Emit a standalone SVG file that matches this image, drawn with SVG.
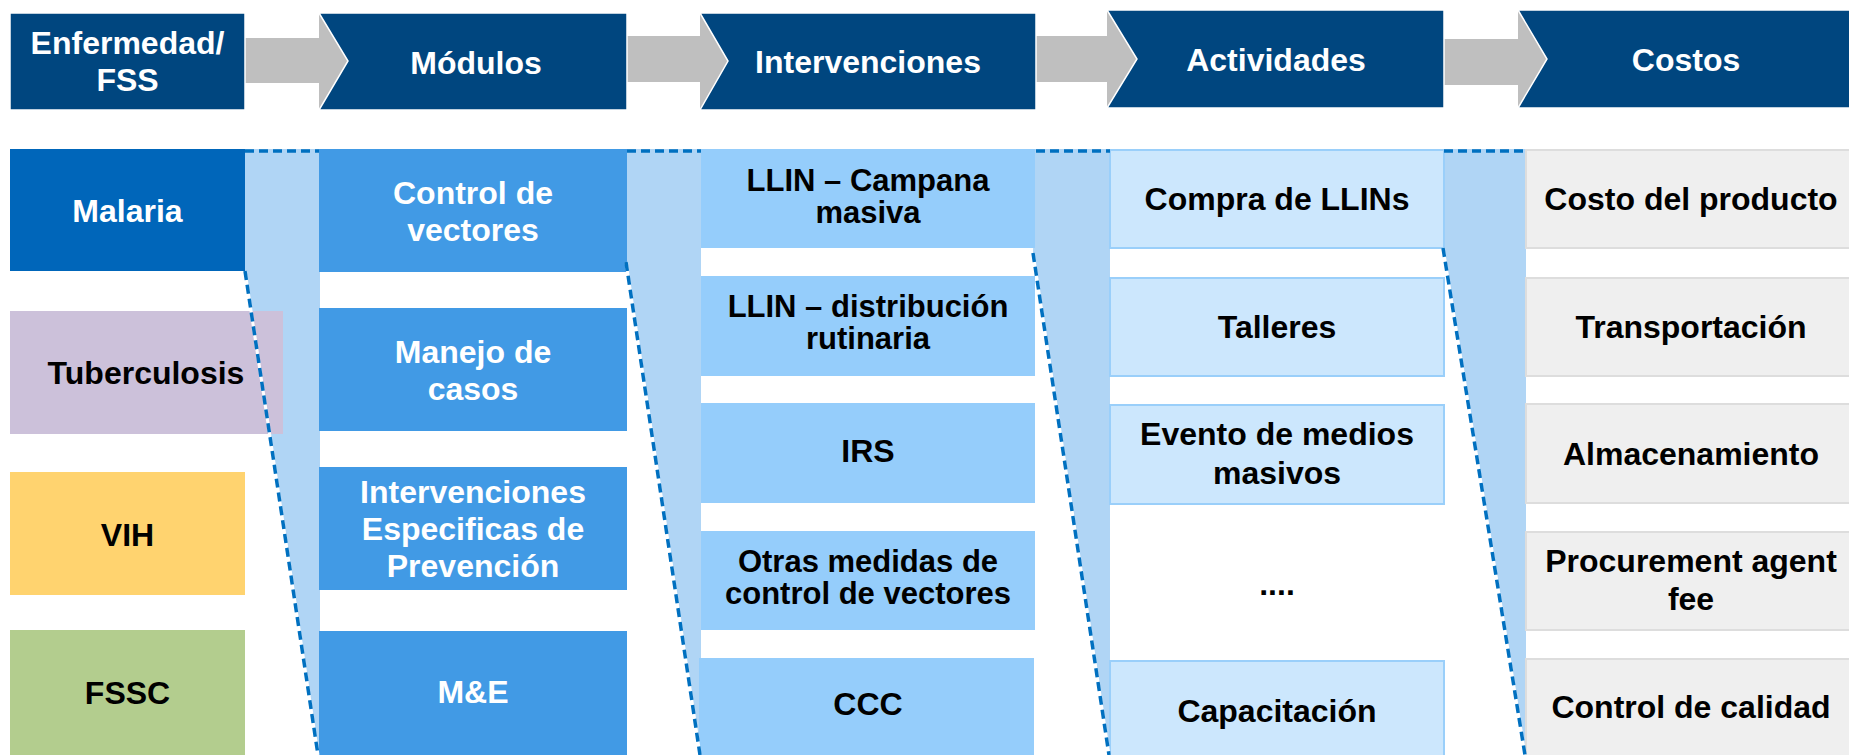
<svg xmlns="http://www.w3.org/2000/svg" width="1849" height="755" viewBox="0 0 1849 755">
<style>
text{font-family:"Liberation Sans",Arial,sans-serif;font-weight:bold;font-size:32px;text-anchor:middle}
.t2{font-size:31px}
.w{fill:#ffffff}
.k{fill:#000000}
.hd{fill:#00467F;stroke:#ffffff;stroke-width:1.5}
.ga{fill:#BFBFBF}
.fun{fill:#B0D5F5}
.mal{fill:#0066BA}
.tb{fill:#CCC1DA}
.vih{fill:#FFD36F}
.fssc{fill:#B3CD8E}
.mod{fill:#419AE5}
.int{fill:#95CDFB}
.act{fill:#CCE7FD;stroke:#9ACFFA;stroke-width:2}
.cost{fill:#EFEFEF;stroke:#DDDDDD;stroke-width:2}
.dw{stroke:#ffffff;stroke-width:3;fill:none}
.dl{stroke:#0070C0;stroke-width:3.5;stroke-dasharray:9 5;fill:none}
</style>
<rect width="1849" height="755" fill="#ffffff"/>
<g id="arrows">
<polygon class="ga" points="245,38 319,38 319,13 348,61 319,110 319,83 245,83"/>
<polygon class="ga" points="627,36 700,36 700,13 728,61 700,110 700,82 627,82"/>
<polygon class="ga" points="1036,36 1107,36 1107,10 1137,59 1107,108 1107,82 1036,82"/>
<polygon class="ga" points="1444,39 1518,39 1518,10 1547,59 1518,108 1518,85 1444,85"/>
</g>
<g id="h1"><rect class="hd" x="10" y="13" width="235" height="97"/><text class="w" x="127.5" y="54">Enfermedad/</text><text class="w" x="127.5" y="91">FSS</text></g>
<g id="h2"><polygon class="hd" points="319,13 627,13 627,110 319,110 348,61"/><text class="w" x="476" y="74">Módulos</text></g>
<g id="h3"><polygon class="hd" points="700,13 1036,13 1036,110 700,110 728,61"/><text class="w" x="868" y="73">Intervenciones</text></g>
<g id="h4"><polygon class="hd" points="1107,10 1444,10 1444,108 1107,108 1137,59"/><text class="w" x="1276" y="71">Actividades</text></g>
<g id="h5"><polygon class="hd" points="1518,10 1851,10 1851,108 1518,108 1547,59"/><text class="w" x="1686" y="71">Costos</text></g>
<g id="funnels">
<polygon class="fun" points="245,149 320,149 320,755 318,755 245,271"/>
<polygon class="fun" points="627,149 701,149 701,755 700,755 626,262"/>
<polygon class="fun" points="1035,149 1110,149 1110,755 1109,755 1033,253"/>
<polygon class="fun" points="1444,149 1526,149 1526,755 1524,755 1443,248"/>
</g>
<g id="n-malaria"><rect class="mal" x="10" y="149" width="235" height="122"/><text class="w" x="127.5" y="222">Malaria</text></g>
<g id="n-tb"><rect class="tb" x="10" y="311" width="273" height="123"/><text class="k" x="146" y="384">Tuberculosis</text></g>
<g id="n-vih"><rect class="vih" x="10" y="472" width="235" height="123"/><text class="k" x="127.5" y="546">VIH</text></g>
<g id="n-fssc"><rect class="fssc" x="10" y="630" width="235" height="126"/><text class="k" x="127.5" y="704">FSSC</text></g>
<g id="m1"><rect class="mod" x="319" y="149" width="308" height="123"/><text class="w" x="473" y="204">Control de</text><text class="w" x="473" y="241">vectores</text></g>
<g id="m2"><rect class="mod" x="319" y="308" width="308" height="123"/><text class="w" x="473" y="363">Manejo de</text><text class="w" x="473" y="400">casos</text></g>
<g id="m3"><rect class="mod" x="319" y="467" width="308" height="123"/><text class="w" x="473" y="503">Intervenciones</text><text class="w" x="473" y="540">Especificas de</text><text class="w" x="473" y="577">Prevención</text></g>
<g id="m4"><rect class="mod" x="319" y="631" width="308" height="125"/><text class="w" x="473" y="703">M&amp;E</text></g>
<g id="i1"><rect class="int" x="701" y="149" width="334" height="99"/><text class="k t2" x="868" y="191">LLIN – Campana</text><text class="k t2" x="868" y="223">masiva</text></g>
<g id="i2"><rect class="int" x="701" y="276" width="334" height="100"/><text class="k t2" x="868" y="317">LLIN – distribución</text><text class="k t2" x="868" y="349">rutinaria</text></g>
<g id="i3"><rect class="int" x="701" y="403" width="334" height="100"/><text class="k" x="868" y="462">IRS</text></g>
<g id="i4"><rect class="int" x="701" y="531" width="334" height="99"/><text class="k t2" x="868" y="572">Otras medidas de</text><text class="k t2" x="868" y="604">control de vectores</text></g>
<g id="i5"><rect class="int" x="699" y="658" width="335" height="98"/><text class="k" x="868" y="715">CCC</text></g>
<g id="a1"><rect class="act" x="1110" y="150" width="334" height="98"/><text class="k" x="1277" y="210">Compra de LLINs</text></g>
<g id="a2"><rect class="act" x="1110" y="278" width="334" height="98"/><text class="k" x="1277" y="338">Talleres</text></g>
<g id="a3"><rect class="act" x="1110" y="405" width="334" height="99"/><text class="k" x="1277" y="445">Evento de medios</text><text class="k" x="1277" y="484">masivos</text></g>
<g id="a4"><text class="k" x="1277" y="595">....</text></g>
<g id="a5"><rect class="act" x="1110" y="661" width="334" height="100"/><text class="k" x="1277" y="722">Capacitación</text></g>
<g id="c1"><rect class="cost" x="1526" y="150" width="330" height="98"/><text class="k" x="1691" y="210">Costo del producto</text></g>
<g id="c2"><rect class="cost" x="1526" y="278" width="330" height="98"/><text class="k" x="1691" y="338">Transportación</text></g>
<g id="c3"><rect class="cost" x="1526" y="404" width="330" height="99"/><text class="k" x="1691" y="465">Almacenamiento</text></g>
<g id="c4"><rect class="cost" x="1526" y="532" width="330" height="98"/><text class="k" x="1691" y="572">Procurement agent</text><text class="k" x="1691" y="610">fee</text></g>
<g id="c5"><rect class="cost" x="1526" y="659" width="330" height="100"/><text class="k" x="1691" y="718">Control de calidad</text></g>
<g id="connectors">
<path class="dw" d="M245,271 L318,755 M626,262 L700,755 M1033,253 L1109,755 M1443,248 L1525,755"/>
<path class="dl" d="M245,151 L319,151 M627,151 L701,151 M1036,151 L1110,151 M1444,151 L1526,151"/>
<path class="dl" d="M245,271 L318,755 M626,262 L700,755 M1033,253 L1109,755 M1443,248 L1525,755"/>
</g>
</svg>
